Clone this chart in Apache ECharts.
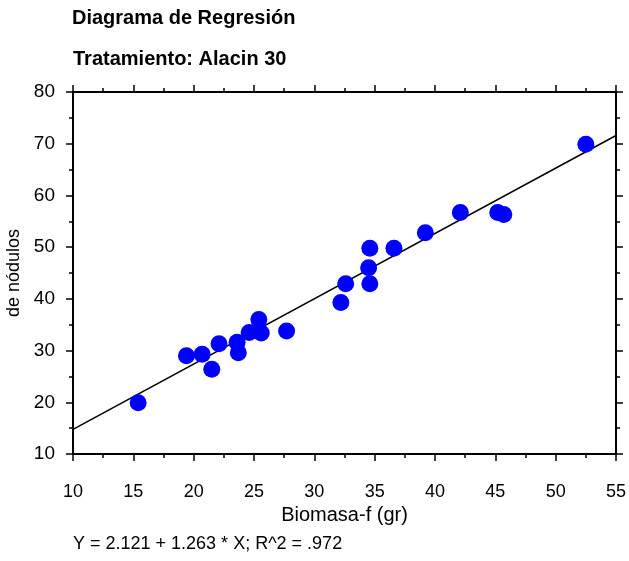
<!DOCTYPE html>
<html>
<head>
<meta charset="utf-8">
<script src="https://cdn.jsdelivr.net/npm/echarts@6/dist/echarts.min.js"></script>
<style>
  html, body { margin: 0; padding: 0; background: #fff; }
  #chart { width: 629px; height: 561px; }
</style>
</head>
<body>
<div id="chart"></div>
<script>
// biomasa-f (gr)
var biomasa = [15.4, 19.4, 20.7, 21.5, 22.1, 23.6, 23.7, 24.6, 25.4, 25.6, 27.7,
  32.2, 32.6, 34.6, 34.5, 34.6, 36.6, 39.2, 42.1, 45.2, 45.7, 52.5];
// número de nódulos
var nodulos = [19.9, 29.0, 29.3, 26.4, 31.3, 31.6, 29.6, 33.5, 36.0, 33.4, 33.8,
  39.3, 42.9, 49.8, 46.0, 42.9, 49.8, 52.8, 56.7, 56.7, 56.3, 69.9];
// recta de regresión
var intercepto = 2.121;
var pendiente = 1.263;
var xTicks = [10, 15, 20, 25, 30, 35, 40, 45, 50, 55];
var yTicks = [10, 20, 30, 40, 50, 60, 70, 80];

var puntos = biomasa.map(function (x, i) { return [x, nodulos[i]]; });
var xMin = xTicks[0], xMax = xTicks[xTicks.length - 1];
var recta = [
  [xMin, intercepto + pendiente * xMin],
  [xMax, intercepto + pendiente * xMax]
];

var fuente = "'Liberation Sans', Arial, sans-serif";
var chart = echarts.init(document.getElementById("chart"));

function ejeX(pos, conEtiquetas) {
  return {
    type: "value",
    position: pos,
    min: xMin,
    max: xMax,
    interval: 5,
    name: conEtiquetas ? "Biomasa-f (gr)" : "",
    nameLocation: "middle",
    nameGap: 45,
    nameTextStyle: { color: "#000", fontSize: 20, fontFamily: fuente },
    axisLine: { show: true, onZero: false, lineStyle: { color: "#000", width: 2 } },
    axisTick: { show: true, length: 7, lineStyle: { color: "#000", width: 1.5 } },
    minorTick: { show: true, splitNumber: 2, length: 4, lineStyle: { color: "#000", width: 1.5 } },
    axisLabel: { show: conEtiquetas, color: "#000", fontSize: 18, fontFamily: fuente, margin: 29 },
    splitLine: { show: false }
  };
}

function ejeY(pos, conEtiquetas) {
  return {
    type: "value",
    position: pos,
    min: yTicks[0],
    max: yTicks[yTicks.length - 1],
    interval: 10,
    name: conEtiquetas ? "de nódulos" : "",
    nameLocation: "middle",
    nameGap: 46,
    nameTextStyle: { color: "#000", fontSize: 18, fontFamily: fuente },
    axisLine: { show: true, onZero: false, lineStyle: { color: "#000", width: 2 } },
    axisTick: { show: true, length: 7, lineStyle: { color: "#000", width: 1.5 } },
    minorTick: { show: true, splitNumber: 2, length: 4, lineStyle: { color: "#000", width: 1.5 } },
    axisLabel: { show: conEtiquetas, color: "#000", fontSize: 19, fontFamily: fuente, margin: 18 },
    splitLine: { show: false }
  };
}

chart.setOption({
  backgroundColor: "#fff",
  animation: false,
  title: [
    {
      text: "Diagrama de Regresión",
      left: 72,
      top: 8,
      padding: 0,
      textStyle: { fontSize: 20, fontWeight: "bold", color: "#000", fontFamily: fuente }
    },
    {
      text: "Tratamiento: Alacin 30",
      left: 73,
      top: 49,
      padding: 0,
      textStyle: { fontSize: 20, fontWeight: "bold", color: "#000", fontFamily: fuente }
    },
    {
      text: "Y = " + intercepto + " + " + pendiente + " * X; R^2 = .972",
      left: 73,
      top: 535,
      padding: 0,
      textStyle: { fontSize: 18, fontWeight: "normal", color: "#000", fontFamily: fuente }
    }
  ],
  grid: { left: 73, top: 92, right: 13, bottom: 107, containLabel: false, outerBoundsMode: "none" },
  xAxis: [ejeX("bottom", true), ejeX("top", false)],
  yAxis: [ejeY("left", true), ejeY("right", false)],
  series: [
    {
      name: "Regresión",
      type: "line",
      data: recta,
      showSymbol: false,
      silent: true,
      z: 2,
      lineStyle: { color: "#000", width: 1.5 }
    },
    {
      name: "Datos",
      type: "scatter",
      data: puntos,
      symbol: "circle",
      symbolSize: 17,
      z: 3,
      itemStyle: { color: "#0000ff", opacity: 1 }
    }
  ]
});
</script>
</body>
</html>
